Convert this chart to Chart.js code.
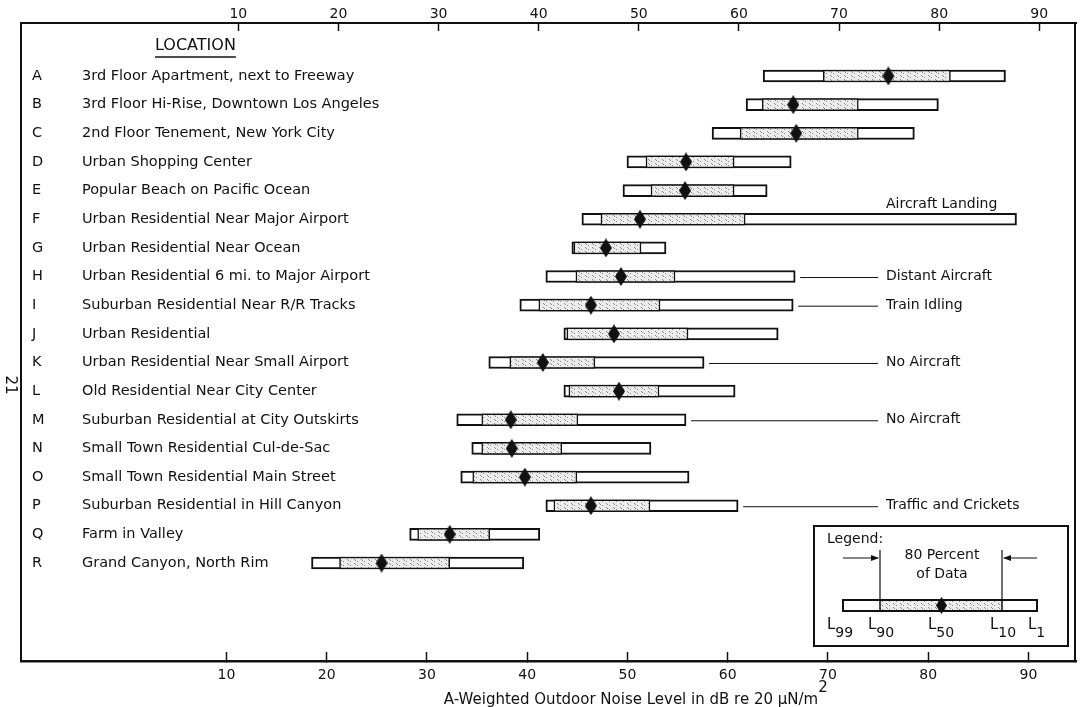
<!DOCTYPE html>
<html lang="en">
<head>
<meta charset="UTF-8" />
<title>Outdoor Noise Levels at 18 Locations</title>
<script src="https://cdn.jsdelivr.net/npm/chart.js"></script>
<style>
  html, body { margin: 0; padding: 0; background: #fff; }
</style>
</head>
<body>
<canvas id="noiseChart" width="1086" height="707"></canvas>
<script>
// Location rows, top to bottom
const letters = ['A', 'B', 'C', 'D', 'E', 'F', 'G', 'H', 'I', 'J', 'K', 'L', 'M', 'N', 'O', 'P', 'Q', 'R'];
const locations = [
  '3rd Floor Apartment, next to Freeway',
  '3rd Floor Hi-Rise, Downtown Los Angeles',
  '2nd Floor Tenement, New York City',
  'Urban Shopping Center',
  'Popular Beach on Pacific Ocean',
  'Urban Residential Near Major Airport',
  'Urban Residential Near Ocean',
  'Urban Residential 6 mi. to Major Airport',
  'Suburban Residential Near R/R Tracks',
  'Urban Residential',
  'Urban Residential Near Small Airport',
  'Old Residential Near City Center',
  'Suburban Residential at City Outskirts',
  'Small Town Residential Cul-de-Sac',
  'Small Town Residential Main Street',
  'Suburban Residential in Hill Canyon',
  'Farm in Valley',
  'Grand Canyon, North Rim'
];

// Percentile levels, dB(A)
const l99 = [63.0, 61.3, 57.9, 49.4, 49.0, 44.9, 43.9, 41.3, 38.7, 43.1, 35.6, 43.1, 32.4, 33.9, 32.8, 41.3, 27.7, 17.9];
const l90 = [69.0, 62.9, 60.7, 51.3, 51.8, 46.8, 44.1, 44.3, 40.6, 43.4, 37.7, 43.6, 34.9, 34.9, 34.0, 42.1, 28.5, 20.7];
const l50 = [75.5, 66.0, 66.3, 55.3, 55.2, 50.7, 47.3, 48.8, 45.8, 48.1, 41.0, 48.6, 37.8, 37.9, 39.2, 45.8, 31.7, 24.9];
const l10 = [81.7, 72.5, 72.5, 60.1, 60.1, 61.2, 50.8, 54.2, 52.7, 55.5, 46.2, 52.6, 44.5, 42.9, 44.4, 51.7, 35.7, 31.7];
const l1  = [87.2, 80.5, 78.1, 65.8, 63.4, 88.3, 53.3, 66.2, 66.0, 64.5, 57.1, 60.2, 55.3, 51.8, 55.6, 60.5, 40.7, 39.1];

const notes = ['', '', '', '', '', 'Aircraft Landing', '', 'Distant Aircraft', 'Train Idling', '',
  'No Aircraft', '', 'No Aircraft', '', '', 'Traffic and Crickets', '', ''];

const axisTicks = [10, 20, 30, 40, 50, 60, 70, 80, 90];

const INK = '#111';
const FONT = '"DejaVu Sans", sans-serif';

// stippled fill for the 80 percent band
function stipple() {
  const c = document.createElement('canvas');
  c.width = 7; c.height = 4;
  const g = c.getContext('2d');
  g.fillStyle = '#ececec';
  g.fillRect(0, 0, 7, 4);
  g.fillStyle = '#8c8c8c';
  g.fillRect(0, 1, 1, 1);
  g.fillRect(4, 3, 1, 1);
  g.fillRect(5, 0, 1, 1);
  return g.createPattern(c, 'repeat');
}

function diamond(w, h) {
  const c = document.createElement('canvas');
  c.width = w; c.height = h;
  const g = c.getContext('2d');
  g.fillStyle = INK;
  g.beginPath();
  g.moveTo(w / 2, 0); g.lineTo(w, h / 2); g.lineTo(w / 2, h); g.lineTo(0, h / 2);
  g.closePath();
  g.fill();
  return c;
}

const shade = stipple();
const marker = diamond(12, 19);
const rows = letters.map((_, i) => i);
const rowTicks = s => { s.ticks = rows.map(v => ({ value: v })); };
const xTicks = s => { s.ticks = axisTicks.map(v => ({ value: v })); };
const noPad = s => { s.paddingTop = 0; s.paddingBottom = 0; s.paddingLeft = 0; s.paddingRight = 0; };

// legend box, notes, header and axis title
const decor = {
  id: 'decor',
  afterDraw(chart) {
    const { ctx, chartArea: a, scales } = chart;
    const xd = scales.xd, y = scales.y;
    ctx.save();
    ctx.strokeStyle = INK;
    ctx.fillStyle = INK;

    // right edge of frame
    ctx.lineWidth = 2;
    ctx.beginPath(); ctx.moveTo(a.right - 1, a.top); ctx.lineTo(a.right - 1, a.bottom); ctx.stroke();

    // header
    ctx.font = '16px ' + FONT;
    ctx.textBaseline = 'middle';
    ctx.textAlign = 'left';
    ctx.fillText('LOCATION', 155, 46);
    const hw = ctx.measureText('LOCATION').width;
    ctx.lineWidth = 1.5;
    ctx.beginPath(); ctx.moveTo(155, 57); ctx.lineTo(155 + hw, 57); ctx.stroke();

    // notes on the right
    const noteX = 886;
    ctx.font = '14px ' + FONT;
    ctx.lineWidth = 1;
    notes.forEach((t, i) => {
      if (!t) return;
      const yy = y.getPixelForValue(i);
      const end = xd.getPixelForValue(l1[i]);
      if (end > noteX - 20) {
        ctx.fillText(t, noteX, yy - 15);
      } else {
        ctx.beginPath(); ctx.moveTo(end + 5, yy + 1); ctx.lineTo(noteX - 8, yy + 1); ctx.stroke();
        ctx.fillText(t, noteX, yy);
      }
    });

    // legend box
    ctx.lineWidth = 2;
    ctx.strokeRect(814, 526, 254, 120);
    ctx.font = '14px ' + FONT;
    ctx.fillText('Legend:', 827, 539);
    ctx.textAlign = 'center';
    ctx.fillText('80 Percent', 942, 555);
    ctx.fillText('of Data', 942, 574);
    ctx.lineWidth = 1.2;
    ctx.beginPath();
    ctx.moveTo(880, 550); ctx.lineTo(880, 600);
    ctx.moveTo(1002, 550); ctx.lineTo(1002, 600);
    ctx.moveTo(843, 558); ctx.lineTo(878, 558);
    ctx.moveTo(1037, 558); ctx.lineTo(1004, 558);
    ctx.stroke();
    ctx.beginPath();
    ctx.moveTo(879, 558); ctx.lineTo(871, 555); ctx.lineTo(871, 561); ctx.closePath();
    ctx.moveTo(1003, 558); ctx.lineTo(1011, 555); ctx.lineTo(1011, 561); ctx.closePath();
    ctx.fill();
    // sample bar
    ctx.fillStyle = '#fff';
    ctx.fillRect(843, 600, 194, 11);
    ctx.fillStyle = shade;
    ctx.fillRect(880, 600, 122, 11);
    ctx.lineWidth = 2;
    ctx.strokeRect(843, 600, 194, 11);
    ctx.lineWidth = 1.5;
    ctx.strokeRect(880, 600, 122, 11);
    ctx.drawImage(diamond(11, 17), 936, 597);
    ctx.fillStyle = INK;
    ctx.textAlign = 'left';
    ctx.textBaseline = 'alphabetic';
    [['99', 827], ['90', 868], ['50', 928], ['10', 990], ['1', 1028]].forEach(([sub, lx]) => {
      ctx.font = '15px ' + FONT;
      ctx.fillText('L', lx, 629);
      const lw = ctx.measureText('L').width;
      ctx.font = '14px ' + FONT;
      ctx.fillText(sub, lx + lw, 637);
    });

    // axis title with superscript
    const title = 'A-Weighted Outdoor Noise Level in dB re 20 \u03bcN/m';
    ctx.font = '15px ' + FONT;
    const tw = ctx.measureText(title).width;
    const tx = 631 - tw / 2;
    ctx.fillText(title, tx, 704);
    ctx.font = '15px ' + FONT;
    ctx.fillText('2', tx + tw, 692);

    // page number in the margin
    ctx.translate(10, 385);
    ctx.rotate(Math.PI / 2);
    ctx.textAlign = 'center';
    ctx.textBaseline = 'middle';
    ctx.fillText('21', 0, 0);
    ctx.restore();
  }
};

const tickFont = { family: FONT, size: 14 };
const nameFont = { family: FONT, size: 14.5 };

new Chart(document.getElementById('noiseChart'), {
  type: 'bar',
  data: {
    datasets: [
      {
        type: 'line',
        label: 'L50',
        data: rows.map(i => ({ x: l50[i], y: i })),
        showLine: false,
        pointStyle: marker,
        pointRadius: 9,
        xAxisID: 'xd',
        yAxisID: 'y',
        order: 1
      },
      {
        label: 'L90 to L10',
        data: rows.map(i => ({ x: [l90[i], l10[i]], y: i })),
        backgroundColor: shade,
        borderColor: INK,
        borderWidth: 1.5,
        borderSkipped: false,
        barThickness: 12,
        grouped: false,
        xAxisID: 'xd',
        yAxisID: 'y',
        order: 2
      },
      {
        label: 'L99 to L1',
        data: rows.map(i => ({ x: [l99[i], l1[i]], y: i })),
        backgroundColor: '#fff',
        borderColor: INK,
        borderWidth: 2,
        borderSkipped: false,
        barThickness: 12,
        grouped: false,
        xAxisID: 'xd',
        yAxisID: 'y',
        order: 3
      }
    ]
  },
  options: {
    indexAxis: 'y',
    responsive: false,
    animation: false,
    layout: { padding: { left: 21, right: 2, top: 0, bottom: 0 } },
    plugins: { legend: { display: false }, tooltip: { enabled: false } },
    scales: {
      xd: { type: 'linear', axis: 'x', display: false, min: -11.11, max: 94.24 },
      x: {
        type: 'linear', position: 'bottom', min: -10.5, max: 94.75,
        afterBuildTicks: xTicks,
        afterFit: s => { s.height = 46; noPad(s); },
        grid: { display: true, drawOnChartArea: false, tickLength: -9, tickWidth: 1.5, color: INK },
        border: { display: true, color: INK, width: 2.5 },
        ticks: { color: INK, font: tickFont, padding: 15, maxRotation: 0, autoSkip: false }
      },
      x2: {
        type: 'linear', position: 'top', min: -11.71, max: 93.67,
        afterBuildTicks: xTicks,
        afterFit: s => { s.height = 23; noPad(s); },
        grid: { display: true, drawOnChartArea: false, tickLength: -8, tickWidth: 1.5, color: INK },
        border: { display: true, color: INK, width: 2 },
        ticks: { color: INK, font: tickFont, padding: 8, maxRotation: 0, autoSkip: false }
      },
      y: {
        type: 'linear', position: 'left', reverse: true, offset: false, min: -1.85, max: 20.42,
        afterBuildTicks: rowTicks,
        afterFit: s => { s.width = 0; noPad(s); },
        grid: { display: false },
        border: { display: true, color: INK, width: 2 },
        ticks: { mirror: true, padding: 11, color: INK, font: nameFont, autoSkip: false,
          callback: v => letters[v] }
      },
      yName: {
        type: 'linear', position: 'left', reverse: true, offset: false, min: -1.85, max: 20.42,
        afterBuildTicks: rowTicks,
        afterFit: s => { s.width = 0; noPad(s); },
        grid: { display: false },
        border: { display: false },
        ticks: { mirror: true, padding: 61, color: INK, font: nameFont, autoSkip: false,
          callback: v => locations[v] }
      }
    }
  },
  plugins: [decor]
});
</script>
</body>
</html>
